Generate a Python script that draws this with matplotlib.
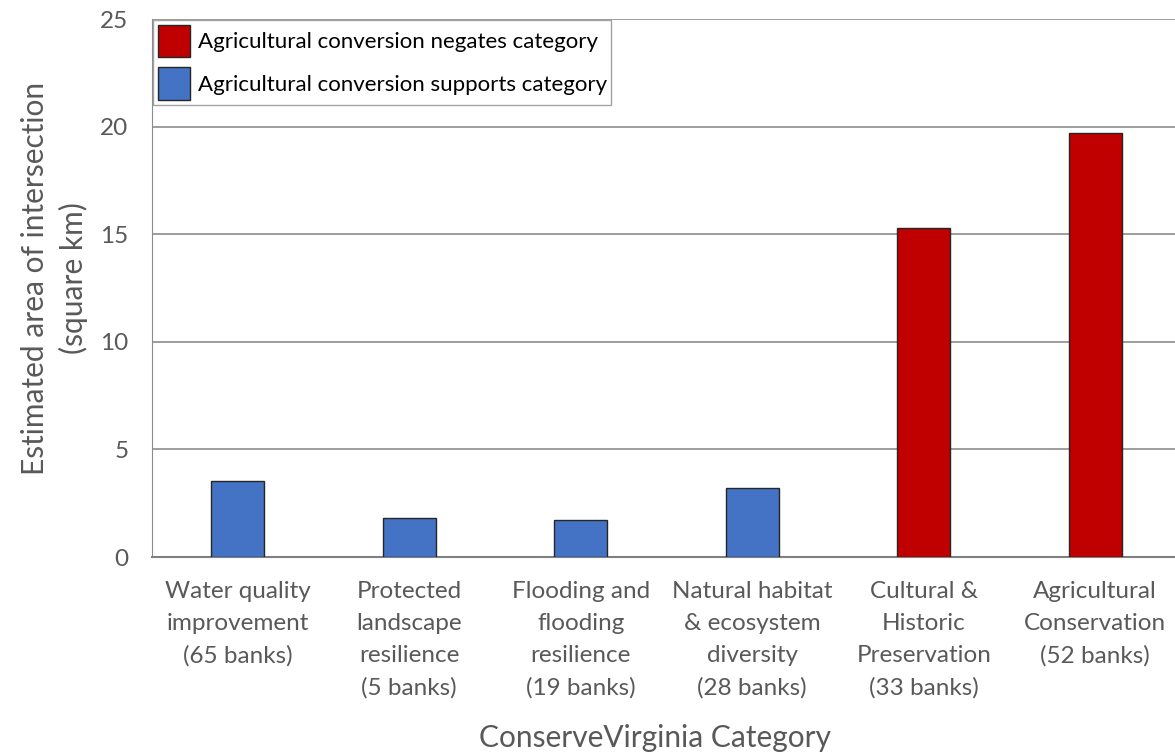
import matplotlib
matplotlib.use("Agg")
import matplotlib.pyplot as plt
from matplotlib.patches import Patch

matplotlib.rcParams['font.family'] = ['Lato', 'DejaVu Sans']

categories = [
    "Water quality\nimprovement\n(65 banks)",
    "Protected\nlandscape\nresilience\n(5 banks)",
    "Flooding and\nflooding\nresilience\n(19 banks)",
    "Natural habitat\n& ecosystem\ndiversity\n(28 banks)",
    "Cultural &\nHistoric\nPreservation\n(33 banks)",
    "Agricultural\nConservation\n(52 banks)",
]
area_km2 = [3.52, 1.80, 1.74, 3.20, 15.28, 19.68]
negates = [False, False, False, False, True, True]

RED = '#C00000'
BLUE = '#4472C4'
GREY = '#595959'

fig = plt.figure(figsize=(11.75, 7.53), dpi=100)
ax = fig.add_axes([152 / 1175, 1 - 557 / 753, 1029 / 1175, 538 / 753])

colors = [RED if n else BLUE for n in negates]
ax.bar(range(len(categories)), area_km2, width=0.31, color=colors,
       edgecolor='#262626', linewidth=1.0, zorder=3)

ax.set_xlim(-0.5, 5.5)
ax.set_ylim(0, 25)
ax.set_yticks([0, 5, 10, 15, 20, 25])
ax.yaxis.grid(True, color='#8c8c8c', linewidth=1.2, zorder=0)
ax.set_axisbelow(True)

for s in ['top', 'right']:
    ax.spines[s].set_visible(False)
ax.spines['left'].set_color('#8c8c8c')
ax.spines['bottom'].set_color('#7f7f7f')
ax.spines['bottom'].set_linewidth(1.5)

ax.set_xticks(range(len(categories)))
ax.set_xticklabels(categories, fontsize=17.5, color=GREY, linespacing=1.65, va='top')
ax.tick_params(axis='x', length=0, pad=17)
ax.tick_params(axis='y', length=0, pad=17, labelsize=17.5, labelcolor=GREY)

ax.set_ylabel("Estimated area of intersection\n(square km)", fontsize=21.5,
              color=GREY, linespacing=1.4)
ax.yaxis.set_label_coords(-0.062, 0.518)
ax.set_xlabel("ConserveVirginia Category", fontsize=21.5, color=GREY)
ax.xaxis.set_label_coords(0.489, -0.31)

handles = [Patch(facecolor=RED, edgecolor='#262626', label='Agricultural conversion negates category'),
           Patch(facecolor=BLUE, edgecolor='#262626', label='Agricultural conversion supports category')]
leg = ax.legend(handles=handles, loc='upper left', bbox_to_anchor=(0.0, 1.0),
                fontsize=16, frameon=True, fancybox=False, borderaxespad=0.05,
                handlelength=1.45, handleheight=1.9, handletextpad=0.35,
                borderpad=0.2, labelspacing=0.45)
leg.get_frame().set_edgecolor('#8c8c8c')
leg.get_frame().set_linewidth(1.0)

fig.savefig('out.png', dpi=100)
